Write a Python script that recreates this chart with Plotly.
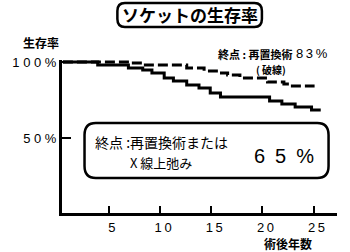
import plotly.graph_objects as go

# ---- data ----
solid_years = [0.5, 3.9, 6.9, 8.3, 9.2, 10.4, 11.3, 12.6, 13.8, 14.9, 15.9, 20.7, 21.9, 23.2, 24.8, 25.7]
solid_surv = [100, 98.0, 96.1, 94.7, 92.8, 89.5, 87.5, 84.9, 82.9, 79.6, 77.0, 74.3, 72.4, 70.4, 68.4, 68.4]

dash_years = [0.5, 3.9, 7.2, 8.3, 12.6, 14.3, 15.5, 16.6, 17.8, 20.5, 22.1, 22.7, 25.1]
dash_surv = [100, 100, 99.3, 98.0, 96.1, 94.1, 92.8, 91.4, 89.5, 86.8, 85.5, 84.2, 84.2]

x_ticks = [5, 10, 15, 20, 25]
x_ticklabels = ["5", "1\u20090", "1\u20095", "2\u20090", "2\u20095"]
y_ticks = [50, 100]
y_ticklabels = ["5 0 %", "1 0 0 %"]

title_text = "ソケットの生存率"
y_title = "生存率"
x_title = "術後年数"
note_top = "終点 : 再置換術"
note_top_val = "8\u20093\u2009%"
note_top2 = "( 破線)"
box_line1 = "終点 :再置換術または"
box_line2 = "X 線上弛み"
box_value = "6\u20025\u2002%"

# ---- layout geometry (pixels) ----
W, H = 350, 252
ML, MR, MT, MB = 44, 13, 60, 39
PW, PH = W - ML - MR, H - MT - MB

def px(x):
    return (x - ML) / PW

def py(y):
    return (H - MB - y) / PH

def rrect(x0, y0, x1, y1, r):
    pts = [
        ("M", [(x0 + r, y0)]),
        ("L", [(x1 - r, y0)]),
        ("Q", [(x1, y0), (x1, y0 + r)]),
        ("L", [(x1, y1 - r)]),
        ("Q", [(x1, y1), (x1 - r, y1)]),
        ("L", [(x0 + r, y1)]),
        ("Q", [(x0, y1), (x0, y1 - r)]),
        ("L", [(x0, y0 + r)]),
        ("Q", [(x0, y0), (x0 + r, y0)]),
    ]
    s = ""
    for cmd, ps in pts:
        s += cmd + " " + " ".join(f"{px(a):.5f},{py(b):.5f}" for a, b in ps) + " "
    return s + "Z"

FONT = "Liberation Sans, Noto Sans CJK JP, sans-serif"
JP = "Noto Sans CJK JP, sans-serif"

fig = go.Figure()
fig.add_trace(go.Scatter(x=dash_years, y=dash_surv, mode="lines", line_shape="hv",
                         line=dict(color="black", width=3, dash="10px,4px"), hoverinfo="skip"))
fig.add_trace(go.Scatter(x=solid_years, y=solid_surv, mode="lines", line_shape="hv",
                         line=dict(color="black", width=3), hoverinfo="skip"))

fig.update_layout(
    width=W, height=H, margin=dict(l=ML, r=MR, t=MT, b=MB),
    paper_bgcolor="white", plot_bgcolor="white", showlegend=False,
    font=dict(family=FONT, color="black", size=13),
    xaxis=dict(range=[0.41, 27.29], showline=True, linecolor="black", linewidth=3,
               showgrid=False, zeroline=False, ticks="inside", ticklen=7, tickwidth=2,
               tickcolor="black", tickvals=x_ticks, ticktext=x_ticklabels,
               tickfont=dict(size=13, family=FONT), ticklabelshift=3, ticklabelstandoff=0),
    yaxis=dict(range=[0.66, 101.3], showline=True, linecolor="black", linewidth=3,
               showgrid=False, zeroline=False, ticks="inside", ticklen=9, tickwidth=2,
               tickcolor="black", tickvals=y_ticks, ticktext=y_ticklabels,
               tickfont=dict(size=13, family=FONT), ticklabelstandoff=0),
)

shapes = [
    dict(type="path", xref="paper", yref="paper", path=rrect(103, 3, 257, 27, 8),
         line=dict(color="black", width=2.5), fillcolor="white", layer="above"),
    dict(type="path", xref="paper", yref="paper", path=rrect(68, 123, 328, 178, 12),
         line=dict(color="black", width=2.5), fillcolor="rgba(0,0,0,0)", layer="above"),
]
fig.update_layout(shapes=shapes)

ann = [
    dict(text=title_text, x=px(180), y=py(15), font=dict(size=17, family=JP, weight=700), xanchor="center"),
    dict(text=y_title, x=px(0), y=py(43), font=dict(size=12, family=JP, weight=700), xanchor="left"),
    dict(text=x_title, x=px(285), y=py(243), font=dict(size=12, family=JP, weight=700), xanchor="center", borderpad=0),
    dict(text=note_top, x=px(250), y=py(54), font=dict(size=11, family=JP, weight=700), xanchor="center"),
    dict(text=note_top_val, x=px(310), y=py(54), font=dict(size=13, family=FONT), xanchor="center"),
    dict(text=note_top2, x=px(267), y=py(69), font=dict(size=10, family=JP, weight=700), xanchor="center"),
    dict(text=box_line1, x=px(150), y=py(142), font=dict(size=14, family=JP), xanchor="center"),
    dict(text=box_line2, x=px(149), y=py(162), font=dict(size=13, family=JP), xanchor="center"),
    dict(text=box_value, x=px(280), y=py(156), font=dict(size=20, family=FONT), xanchor="center"),
]
for a in ann:
    a.update(xref="paper", yref="paper", showarrow=False, yanchor="middle")
fig.update_layout(annotations=ann)

fig.write_html("out.html")
